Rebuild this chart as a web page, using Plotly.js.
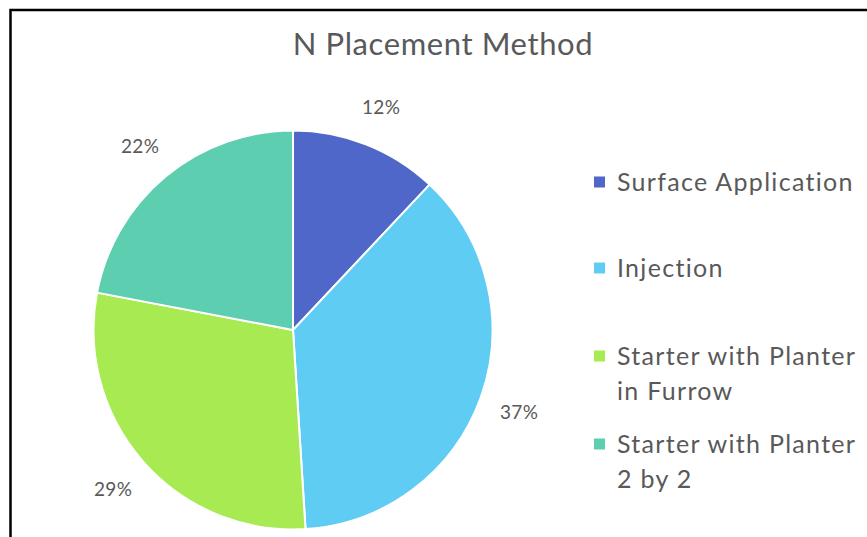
<!DOCTYPE html>
<html>
<head>
<meta charset="utf-8">
<script src="https://cdn.plot.ly/plotly-3.0.1.min.js"></script>
<style>html,body{margin:0;padding:0;background:#fff;}#chart{width:867px;height:537px;}</style>
</head>
<body>
<div id="chart"></div>
<script>
var categories = ["Surface Application", "Injection", "Starter with Planter<br>in Furrow", "Starter with Planter<br>2 by 2"];
var shares = [12, 37, 29, 22];
var percentLabels = ["12%", "37%", "29%", "22%"];
var sliceColors = ["#4E67C8", "#5ECCF3", "#A7EA52", "#5DCEAF"];

var W = 867, H = 537;
var textColor = "#595959";
var font = "Lato, 'Open Sans', sans-serif";

function spaced(t, px) {
  return '<span style="letter-spacing:' + px + 'px">' + t + '</span>';
}

// pie geometry (pixels)
var cx = 293, cy = 330, r = 199.5;
var domainX = [(cx - r) / W, (cx + r) / W];
var domainY = [1 - (cy + r) / H, 1 - (cy - r) / H];

var annotations = [];
var shapes = [];

// percent labels at slice bisectors, outside the pie
var total = shares.reduce(function (a, b) { return a + b; }, 0);
var labelR = 240;
var cum = 0;
for (var i = 0; i < shares.length; i++) {
  var mid = (cum + shares[i] / 2) / total * 2 * Math.PI;
  cum += shares[i];
  var px = cx + labelR * Math.sin(mid);
  var py = cy - labelR * Math.cos(mid);
  annotations.push({
    x: px / W, y: 1 - py / H, xref: "paper", yref: "paper",
    xanchor: "center", yanchor: "middle", showarrow: false,
    text: spaced(percentLabels[i], 0.3), font: {family: font, size: 19, color: textColor}
  });
}

// legend built from categories and colours
var legendX = 615, swatchX = 594, swatch = 11;
var legendRows = [181, 267, 355, 443];
var lineGap = 35;
for (var j = 0; j < categories.length; j++) {
  var lines = categories[j].split("<br>");
  for (var k = 0; k < lines.length; k++) {
    var ly = legendRows[j] + k * lineGap;
    annotations.push({
      x: legendX / W, y: 1 - ly / H, xref: "paper", yref: "paper",
      xanchor: "left", yanchor: "middle", showarrow: false,
      text: spaced(lines[k], 1.3), font: {family: font, size: 25, color: textColor}
    });
  }
  shapes.push({
    type: "rect", xref: "paper", yref: "paper",
    x0: swatchX / W, x1: (swatchX + swatch) / W,
    y0: 1 - (legendRows[j] + 1 + swatch / 2) / H, y1: 1 - (legendRows[j] + 1 - swatch / 2) / H,
    fillcolor: sliceColors[j], line: {width: 0}
  });
}

// frame (left and top edges)
shapes.push({
  type: "path", xref: "paper", yref: "paper",
  path: "M " + (10.5 / W) + " 0 L " + (10.5 / W) + " " + (1 - 10 / H) + " L 1 " + (1 - 10 / H),
  line: {color: "#000000", width: 2.5}
});

var data = [{
  type: "pie",
  labels: categories,
  values: shares,
  sort: false,
  direction: "clockwise",
  rotation: 0,
  marker: {colors: sliceColors, line: {color: "#ffffff", width: 2}},
  textinfo: "none",
  hoverinfo: "label+percent",
  domain: {x: domainX, y: domainY}
}];

var layout = {
  width: W, height: H,
  margin: {l: 0, r: 0, t: 0, b: 0},
  paper_bgcolor: "#ffffff",
  showlegend: false,
  title: {
    text: spaced("N Placement Method", 0.6),
    x: 443 / W, xanchor: "center", xref: "paper",
    y: 1 - 44 / H, yanchor: "middle", yref: "paper",
    font: {family: font, size: 31, color: textColor}
  },
  annotations: annotations,
  shapes: shapes
};

Plotly.newPlot("chart", data, layout, {displayModeBar: false, staticPlot: true});
</script>
</body>
</html>
